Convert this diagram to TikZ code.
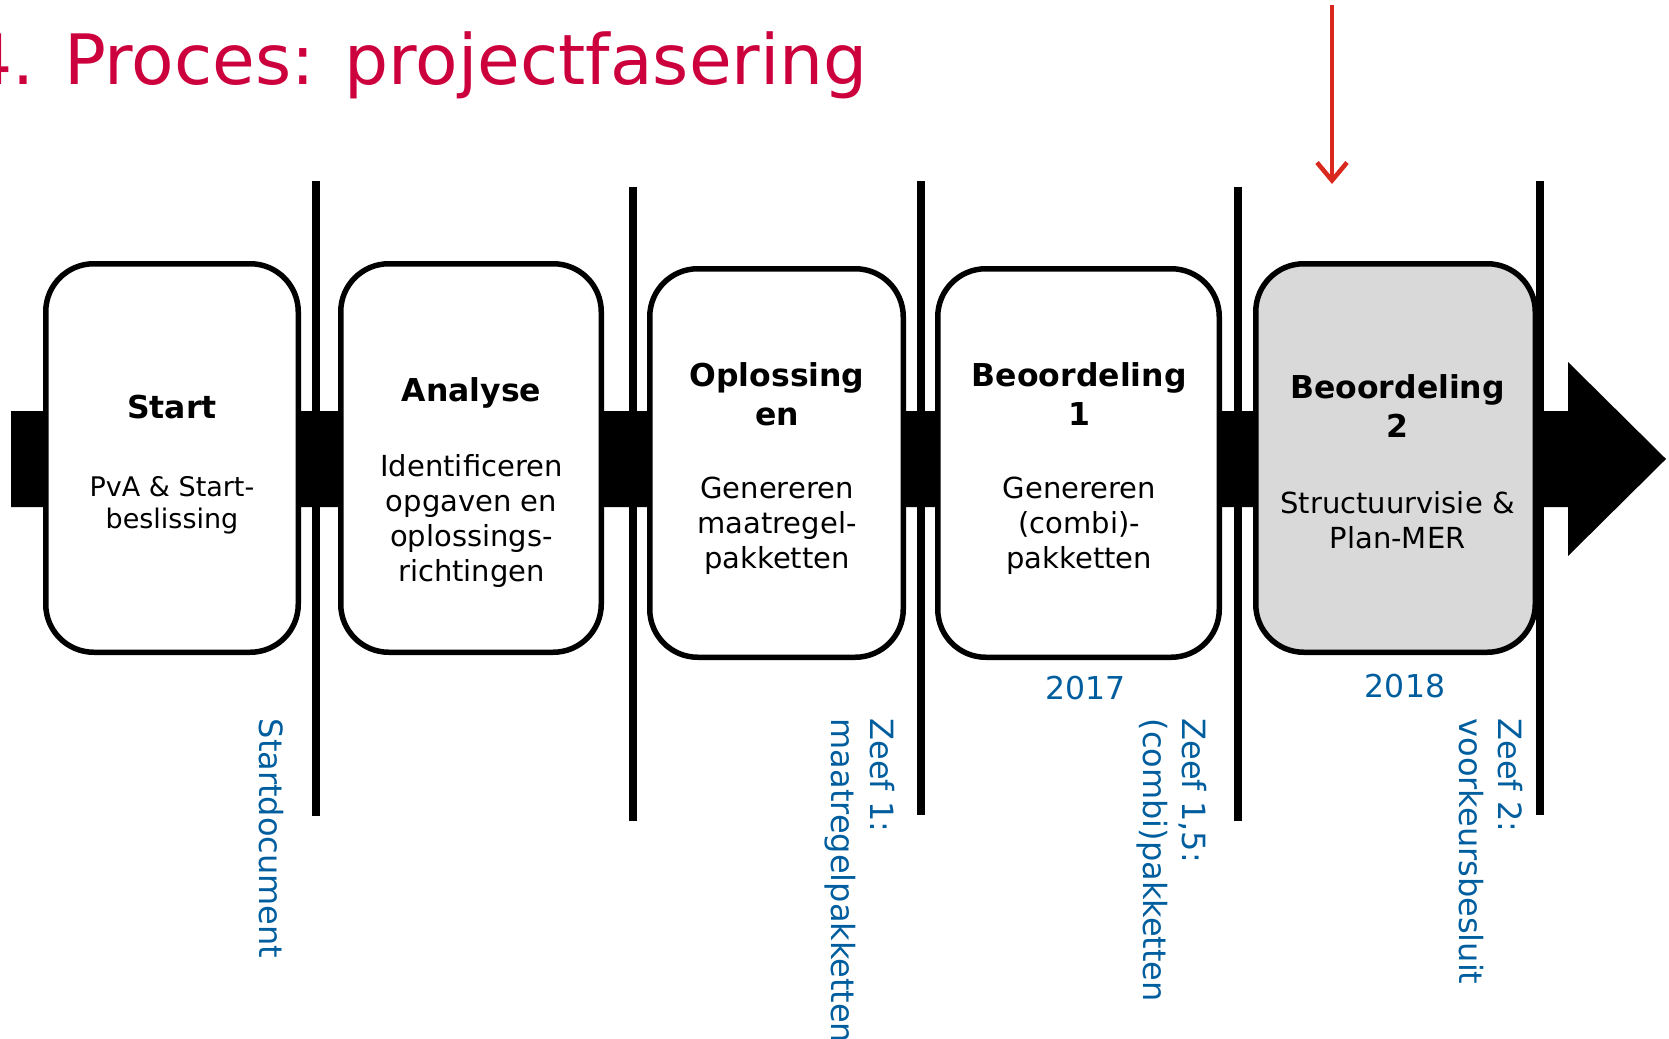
\documentclass[tikz,border=0pt]{standalone}
\usepackage{fontspec}
\setmainfont{DejaVu Sans}
\usetikzlibrary{arrows.meta}
\definecolor{titlered}{RGB}{204,0,60}
\definecolor{zeefblue}{RGB}{0,94,158}
\definecolor{arrowred}{RGB}{217,40,30}
\definecolor{boxgray}{RGB}{217,217,217}
\begin{document}
\begin{tikzpicture}[x=1pt,y=-1pt,
  phase/.style={draw=black, line width=5.5pt, rounded corners=48pt, fill=white, inner sep=0pt, minimum height=388.5pt},
  head/.style={font=\fontsize{31.5}{39}\selectfont\bfseries, align=center, inner sep=0pt},
  body/.style={font=\fontsize{29}{35}\selectfont, align=center, inner sep=0pt},
  gate/.style={line width=7.5pt, draw=black},
  zeef/.style={font=\fontsize{32}{39.4}\selectfont, text=zeefblue, align=left, inner sep=0pt, rotate=-90},
  year/.style={font=\fontsize{31.5}{38}\selectfont, text=zeefblue, inner sep=0pt}]
\useasboundingbox (0,0) rectangle (1669,1038);
\clip (0,0) rectangle (1669,1038);

% title
\node[anchor=base east, text=titlered, font=\fontsize{69.5}{80}\selectfont, inner sep=0pt] (title) at (868,85) {4. Proces: projectfasering};

% timeline arrow
\fill[black] (11,411) -- (1568,411) -- (1568,362) -- (1666,459) -- (1568,556) -- (1568,507) -- (11,507) -- cycle;

% phase boxes
\node[phase, minimum width=252.5pt] (b1) at (172,458) {};
\node[phase, minimum width=260.5pt] (b2) at (471,458) {};
\node[phase, minimum width=253.5pt] (b3) at (776.5,463) {};
\node[phase, minimum width=281.5pt] (b4) at (1078.5,463) {};
\node[phase, minimum width=279.5pt, fill=boxgray] (b5) at (1395.5,458) {};

% gates
\coordinate (g1t) at (316,181); \coordinate (g1b) at (316,816);
\coordinate (g2t) at (633,187); \coordinate (g2b) at (633,821);
\coordinate (g3t) at (921,181); \coordinate (g3b) at (921,815);
\coordinate (g4t) at (1238,187); \coordinate (g4b) at (1238,821);
\coordinate (g5t) at (1540,181); \coordinate (g5b) at (1540,815);
\draw[gate] (g1t) -- (g1b);
\draw[gate] (g2t) -- (g2b);
\draw[gate] (g3t) -- (g3b);
\draw[gate] (g4t) -- (g4b);
\draw[gate] (g5t) -- (g5b);

% box texts
\node[head] (h1) at (172,407.5) {Start};
\node[body, font=\fontsize{27}{32}\selectfont] (t1) at (172,505.4) {PvA \& Start-\\beslissing};
\node[head] (h2) at (471.5,392.6) {Analyse};
\node[body] (t2) at (471.5,520.8) {Identificeren\\opgaven en\\oplossings-\\richtingen};
\node[head] (h3) at (777,394.3) {Oplossing\\en};
\node[body] (t3) at (777,525.3) {Genereren\\maatregel-\\pakketten};
\node[head] (h4) at (1079.3,394.3) {Beoordeling\\1};
\node[body] (t4) at (1079.3,525.3) {Genereren\\(combi)-\\pakketten};
\node[head] (h5) at (1397.6,406.5) {Beoordeling\\2};
\node[body] (t5) at (1397.6,519.8) {Structuurvisie \&\\Plan-MER};

% years
\node[year] (y1) at (1085.6,688) {2017};
\node[year] (y2) at (1405,686) {2018};

% gate labels
\node[zeef, anchor=west] (z0) at (271,718.5) {Startdocument};
\node[zeef, anchor=north west] (z1) at (895,718.5) {Zeef 1:\\maatregelpakketten};
\node[zeef, anchor=north west] (z15) at (1207,718.5) {Zeef 1,5:\\(combi)pakketten};
\node[zeef, anchor=north west] (z2) at (1523,718.5) {Zeef 2:\\voorkeursbesluit};

% red marker arrow
\coordinate (rt) at (1332,5);
\coordinate (rb) at (1332,184);
\draw[arrowred, line width=4.5pt, -{Straight Barb[length=18pt,width=30pt]}] (rt) -- (rb);
\end{tikzpicture}
\end{document}
